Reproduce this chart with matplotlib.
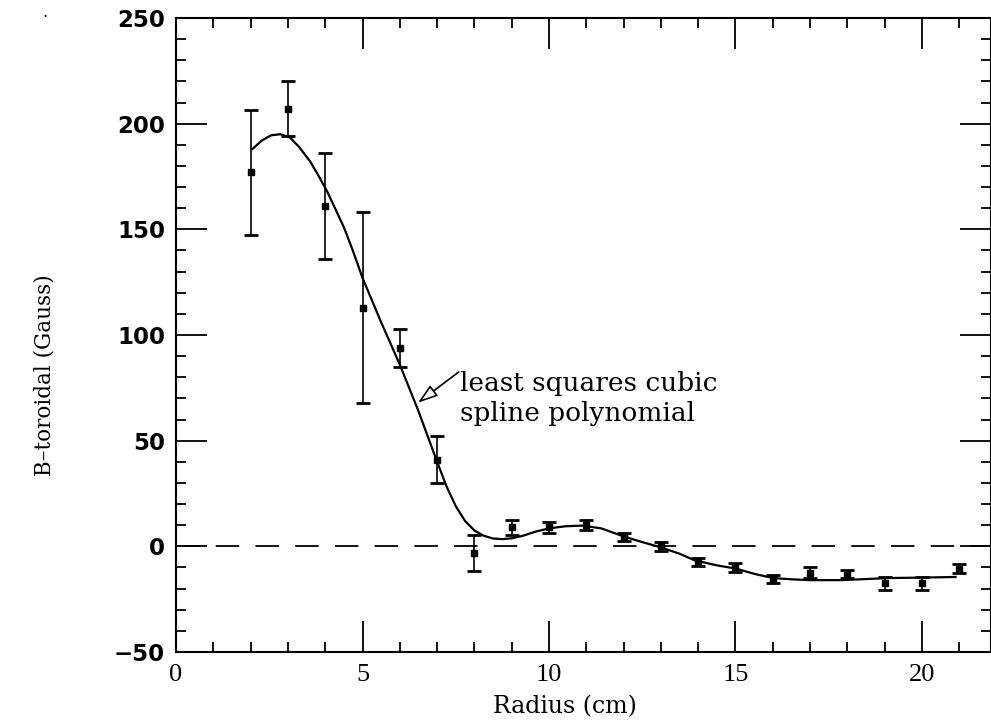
import numpy as np
import matplotlib.pyplot as plt
from matplotlib.ticker import MultipleLocator

# measured field points
radius = np.arange(2, 22)
b_tor = [177, 207, 161, 113, 94, 41, -3, 9, 9, 10, 4.5, 0, -7.5, -10, -15.5, -12.5, -13, -17.5, -17.5, -10.5]
b_err = [29.5, 13, 25, 45, 9, 11, 8.5, 3.5, 2.5, 2.5, 2, 2, 2, 2, 2, 2.5, 2, 3, 3, 2]

# least squares spline
fit_r = [2.05, 2.3, 2.55, 2.8, 3.05, 3.3, 3.6, 3.8, 4.05, 4.25, 4.5, 4.75, 5.0, 5.5,
         6.0, 6.5, 7.0, 7.25, 7.5, 7.75, 8.0, 8.25, 8.5, 8.75, 9.0, 9.3, 9.65, 10.0,
         10.45, 10.9, 11.4, 12.0, 12.5, 13.0, 13.5, 13.9, 14.5, 15.0, 15.5, 16.0,
         16.5, 17.0, 17.8, 18.5, 19.1, 20.0, 20.9]
fit_b = [188, 192, 194.5, 195, 193.5, 189, 182, 176, 168, 160.5, 151, 139.5, 127, 106,
         86, 64, 40, 28.5, 19, 12, 7.5, 5, 3.7, 3.4, 3.8, 5, 7, 8.5,
         9.5, 9.8, 8.5, 4.7, 2, -0.5, -3.5, -6.6, -9, -10.5, -13, -15,
         -15.6, -16, -16, -15.5, -15, -14.8, -14.5]

fig = plt.figure(figsize=(9.91, 7.28), dpi=100)
ax = fig.add_axes([0.1776, 0.1044, 0.8224, 0.8709])

ax.axhline(0, color='black', lw=1.3, dashes=(13, 9))
ax.plot(fit_r, fit_b, color='black', lw=1.6)
ax.errorbar(radius, b_tor, yerr=b_err, fmt='s', ms=4, color='black',
            ecolor='black', elinewidth=1.2, capsize=5, capthick=2)

ax.text(7.62, 70, 'least squares cubic\nspline polynomial', fontsize=19,
        family='DejaVu Serif', va='center', ha='left', linespacing=1.25)
ax.annotate('', xy=(6.49, 68), xytext=(7.58, 82.5),
            arrowprops=dict(arrowstyle='-|>,head_length=1.2,head_width=0.4',
                            facecolor='white', edgecolor='black', lw=1.2,
                            shrinkA=0, shrinkB=0))

ax.set_xlim(0, 21.85)
ax.set_ylim(-50, 250)
ax.xaxis.set_major_locator(MultipleLocator(5))
ax.xaxis.set_minor_locator(MultipleLocator(1))
ax.yaxis.set_major_locator(MultipleLocator(50))
ax.yaxis.set_minor_locator(MultipleLocator(10))
ax.tick_params(which='both', direction='in', top=True, right=True, width=1.3)
ax.tick_params(which='major', length=22)
ax.tick_params(which='minor', length=7)
ax.tick_params(axis='x', pad=9)
ax.tick_params(axis='y', pad=8)
for lab in ax.get_xticklabels():
    lab.set_family('Liberation Serif')
    lab.set_fontsize(19)
for lab in ax.get_yticklabels():
    lab.set_family('DejaVu Sans')
    lab.set_fontsize(16.5)
    lab.set_weight('bold')
for sp in ax.spines.values():
    sp.set_linewidth(1.5)

ax.set_xlabel('Radius (cm)', family='DejaVu Serif', fontsize=17, labelpad=6)
ax.xaxis.label.set_x((565 - 176) / 815)
fig.text(45 / 991, 1 - 375 / 728, 'B\u2013toroidal (Gauss)', rotation=90,
         family='DejaVu Serif', fontsize=15.5, ha='center', va='center')
fig.text(45 / 991, 1 - 12 / 728, '.', fontsize=12, ha='center', va='center')

fig.savefig('out.png', dpi=100)
